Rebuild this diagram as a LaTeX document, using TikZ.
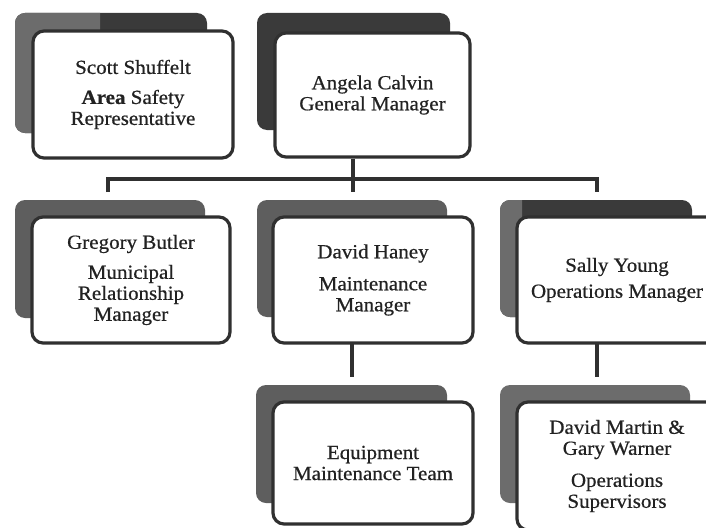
\documentclass[tikz,border=0pt]{standalone}
\usepackage{fontspec}
\setmainfont{Liberation Serif}[FakeStretch=1.05,FakeBold=0.6]
\definecolor{ink}{HTML}{303030}
\definecolor{txt}{HTML}{222222}
\definecolor{darkback}{HTML}{3A3A3A}
\definecolor{midback}{HTML}{5E5E5E}
\definecolor{liteback}{HTML}{6C6C6C}
\tikzset{
  card/.style={draw=ink, line width=3.2pt, rounded corners=11pt, fill=white,
    align=center, text=txt, inner sep=0pt,
    font=\fontsize{20}{21}\selectfont},
  conn/.style={draw=ink, line width=3.5pt},
  backfill/.style={rounded corners=10pt}
}
\newcommand\backcard[5]{% x1 y1 x2 y2 colour
  \fill[backfill,#5] (#1,#2) rectangle (#3,#4);}
\newcommand\twotonecard[5]{% x1 y1 x2 y2 splitx
  \fill[backfill,darkback] (#1,#2) rectangle (#3,#4);
  \begin{scope}
    \clip (#1-2,#2-2) rectangle (#5,#4+2);
    \fill[backfill,liteback] (#1,#2) rectangle (#3,#4);
  \end{scope}}
\begin{document}
\begin{tikzpicture}[x=1pt,y=-1pt]
\useasboundingbox (0,0) rectangle (706,527);
\clip (0,0) rectangle (706,527);
\fill[white] (0,0) rectangle (706,527);
% back cards
\twotonecard{15}{13}{207}{133}{100}
\backcard{257}{13}{450}{130}{darkback}
\backcard{15}{200}{205}{318}{midback}
\backcard{257}{200}{447}{317}{midback}
\twotonecard{500}{200}{692}{317}{522}
\backcard{256}{385}{447}{503}{midback}
\backcard{500}{385}{690}{503}{liteback}
% front cards
\node[card, minimum width=200pt, minimum height=127pt] (scott) at (133,94.5)
  {Scott Shuffelt\\[9pt] \textbf{Area} Safety\\ Representative};
\node[card, minimum width=195pt, minimum height=124pt] (angela) at (372.5,95)
  {Angela Calvin\\ General Manager};
\node[card, minimum width=198pt, minimum height=126pt] (gregory) at (131,280)
  {Gregory Butler\\[9pt] Municipal\\ Relationship\\ Manager};
\node[card, minimum width=200pt, minimum height=126pt] (haney) at (373,280)
  {David Haney\\[11pt] Maintenance\\ Manager};
\node[card, minimum width=200pt, minimum height=126pt] (sally) at (617,280)
  {Sally Young\\[5pt] Operations Manager};
\node[card, minimum width=200pt, minimum height=122pt] (equip) at (373,463)
  {Equipment\\ Maintenance Team};
\node[card, minimum width=200pt, minimum height=128pt] (martin) at (617,466)
  {David Martin \&\\ Gary Warner\\[11pt] Operations\\ Supervisors};
% connectors
\coordinate (busmid) at (353,179);
\coordinate (busleft) at (108,179);
\coordinate (busright) at (597,179);
\coordinate (dropleft) at (108,192);
\coordinate (dropmid) at (353,192);
\coordinate (dropright) at (597,192);
\coordinate (haneyout) at (352,343);
\coordinate (equipin) at (352,377);
\coordinate (sallyout) at (597,343);
\coordinate (martinin) at (597,377);
\draw[conn] (angela.south -| busmid) -- (busmid);
\draw[conn] (dropleft) -- (busleft) -- (busright) -- (dropright);
\draw[conn] (busmid) -- (dropmid);
\draw[conn] (haneyout) -- (equipin);
\draw[conn] (sallyout) -- (martinin);
\end{tikzpicture}
\end{document}
